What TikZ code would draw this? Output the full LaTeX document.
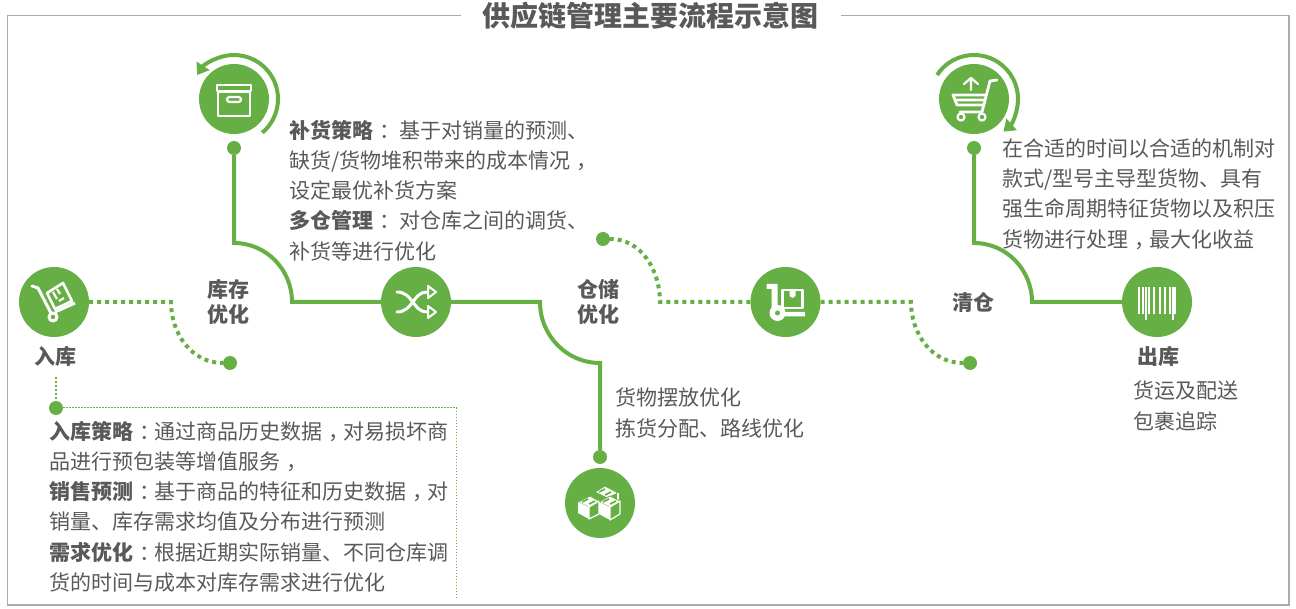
\documentclass[tikz,border=0pt]{standalone}
\usepackage{fontspec}
\setmainfont{Noto Sans CJK SC}
\usepackage{xcolor}
\definecolor{leaf}{RGB}{102, 175, 69}
\definecolor{ink}{RGB}{89, 89, 89}
\definecolor{framegray}{RGB}{170, 170, 170}
\usetikzlibrary{arrows.meta, positioning}
\newcommand{\midmark}[1]{\kern6pt#1\kern-6pt\relax}
\tikzset{
  hub/.style={circle, fill=leaf, minimum size=70pt, inner sep=0pt},
  pin/.style={circle, fill=leaf, minimum size=14pt, inner sep=0pt},
  solidlink/.style={draw=leaf, line width=4pt},
  dotlink/.style={draw=leaf, line width=4pt, dash pattern=on 4pt off 4pt},
  thinlink/.style={draw=leaf, line width=1pt, dash pattern=on 1.5pt off 1.5pt},
  ring/.style={draw=leaf, line width=4pt, -{Triangle[width=15pt,length=11pt]}},
  icon/.style={draw=white, line width=2.2pt, line join=round},
  stage/.style={text=ink, inner sep=0pt, align=center,
    font=\fontsize{21pt}{25pt}\selectfont\bfseries},
  note/.style={text=ink, inner sep=0pt, align=left, anchor=north west,
    font=\fontsize{21pt}{30.2pt}\selectfont}
}

\begin{document}
\begin{tikzpicture}[x=1pt, y=-1pt, on grid]
  \useasboundingbox (0,0) rectangle (1296,609);

  \draw[framegray, line width=1.5pt] (7.5,15.5) rectangle (1289,605);
  \node[fill=white, inner xsep=22pt, inner ysep=2pt, text=ink,
    font=\fontsize{28pt}{32pt}\selectfont\bfseries] (title) at (650.5,16)
    {供应链管理主要流程示意图};

  \node[hub] (inbound) at (54,302) {};
  \node[hub, right=362pt of inbound] (shuffle) {};
  \node[hub, right=369.5pt of shuffle] (handtruck) {};
  \node[hub, right=371.5pt of handtruck] (barcode) {};
  \node[hub, above right=203pt and 180pt of inbound] (archive) {};
  \node[hub, below right=201pt and 184pt of shuffle] (crates) {};
  \node[hub, above left=203pt and 183pt of barcode] (cart) {};

  \node[pin, below=49pt of archive] (archivepin) {};
  \node[pin, above=46pt of crates] (cratespin) {};
  \node[pin, below=49pt of cart] (cartpin) {};
  \node[pin, below right=61pt and 176pt of inbound] (stockpin) {};
  \node[pin, above left=63pt and 182.5pt of handtruck] (storepin) {};
  \node[pin, below right=61pt and 184.5pt of handtruck] (clearpin) {};
  \node[pin] (notepin) at (56,408) {};

  \coordinate[below=144pt of archive] (archiveknee);
  \coordinate[left=124pt of shuffle] (shuffleleft);
  \coordinate[right=124pt of shuffle] (shuffleright);
  \coordinate[above=140pt of crates] (crateknee);
  \coordinate[below=144pt of cart] (cartknee);
  \coordinate[left=125pt of barcode] (barcodeleft);
  \coordinate[right=117pt of inbound] (inboundright);
  \coordinate[left=125.5pt of handtruck] (truckleft);
  \coordinate[right=125.5pt of handtruck] (truckright);
  \coordinate (labelfoot) at (56,377);
  \coordinate (noteright) at (456.5,408);
  \coordinate (noteend) at (456.5,597);

  % solid route
  \draw[solidlink] (archivepin) -- (archiveknee)
    to[out=0, in=90] (shuffleleft) -- (shuffle);
  \draw[solidlink] (shuffle) -- (shuffleright)
    to[out=-90, in=180] (crateknee) -- (cratespin);
  \draw[solidlink] (cartpin) -- (cartknee)
    to[out=0, in=90] (barcodeleft) -- (barcode);

  % dotted route
  \draw[dotlink] (inbound) -- (inboundright)
    to[out=-90, in=180] (stockpin);
  \draw[dotlink] (handtruck) -- (truckleft)
    to[out=90, in=0] (storepin);
  \draw[dotlink] (handtruck) -- (truckright)
    to[out=-90, in=180] (clearpin);
  \draw[draw=leaf, line width=2pt, dash pattern=on 2pt off 2pt] (labelfoot) -- (notepin);
  \draw[thinlink] (notepin) -- (noteright) -- (noteend);

  \draw[ring] (archive) ++(-50:44pt) arc[start angle=-50, end angle=147, radius=44pt];
  \draw[ring] (cart) ++(147:44pt) arc[start angle=147, end angle=-48, radius=44pt];

  % icons
  \begin{scope}[shift={(archive.center)}, icon]
    \draw (-17,-14) rectangle (17,-8);
    \draw (-16,-7) rectangle (16,17);
    \draw[rounded corners=2.5pt] (-7,-2) rectangle (7,3);
  \end{scope}
  \begin{scope}[shift={(inbound.center)}, icon]
    \draw[line width=3pt, line cap=round] (-22,-16) -- (-16,-14) -- (-2,13);
    \draw[line width=3pt] (1,10) -- (21,1);
    \draw[line width=2.6pt] (-7,-9) -- (9,-19) -- (18,-1) -- (1,7) -- cycle;
    \draw (-1,-10) -- (3,-3) (3,-13) -- (6,-8) (5,-1) -- (10,-4);
    \draw[fill=leaf, line width=3pt] (-1,15) circle (4);
  \end{scope}
  \begin{scope}[shift={(shuffle.center)}, icon, line cap=round]
    \draw[line width=3pt] (-19,-10) .. controls (-3,-10) and (-3,10) .. (11,10);
    \draw[line width=3pt] (-19,10) .. controls (-3,10) and (-3,-10) .. (11,-10);
    \draw[line width=2pt, fill=leaf] (12,-16) -- (20,-10) -- (12,-4) -- cycle;
    \draw[line width=2pt, fill=leaf] (12,4) -- (20,10) -- (12,16) -- cycle;
  \end{scope}
  \begin{scope}[shift={(crates.center)}, icon, line width=1.2pt]
    \draw[fill=white, draw=leaf, line width=.8pt] (-5,-11) -- (5,-17) -- (18,-10) -- (7,-5) -- cycle;
    \draw[white, line width=1.2pt] (18,-10) -- (18,-3);
    \draw[leaf, line width=1.6pt] (-1,-11) -- (5,-14) (5,-8) -- (11,-11);
    \draw[fill=white, draw=leaf, line width=.8pt] (-22,-1) -- (-10,-7) -- (-1,-2) -- (-11,4) -- cycle;
    \draw[leaf, line width=1.6pt] (-18,-1) -- (-12,-4) (-11,1) -- (-5,-2);
    \draw[fill=white, draw=none] (-22,-1) -- (-11,4) -- (-11,16) -- (-22,10) -- cycle;
    \draw[fill=leaf] (-11,4) -- (-1,-2) -- (-1,11) -- (-11,16) -- cycle;
    \draw[fill=white, draw=leaf, line width=.8pt] (-1,-1) -- (10,-7) -- (20,-2) -- (10,4) -- cycle;
    \draw[leaf, line width=1.6pt] (3,-1) -- (9,-4) (10,1) -- (16,-2);
    \draw[fill=white, draw=none] (-1,-1) -- (10,4) -- (10,17) -- (-1,11) -- cycle;
    \draw[fill=leaf] (10,4) -- (20,-2) -- (20,11) -- (10,17) -- cycle;
  \end{scope}
  \begin{scope}[shift={(handtruck.center)}, icon]
    \draw[fill=white, draw=none] (-19,-18) -- (-8,-18) -- (-8,10) -- (19.5,10)
      -- (19.5,14.5) -- (-14,14.5) -- (-14,-13) -- (-19,-13) -- cycle;
    \draw (-3,-12) rectangle (17,6);
    \draw[fill=white, draw=none] (4,-12) -- (10,-12) -- (10,-6) -- (7,-4) -- (4,-6) -- cycle;
    \draw[fill=white, draw=none] (-8,11) circle (8);
    \draw[fill=leaf, draw=none] (-8,11) circle (2.5);
  \end{scope}
  \begin{scope}[shift={(cart.center)}, icon]
    \draw[line cap=round] (-3,-9) -- (-3,-21) (-10,-15) -- (-3,-21) -- (4,-15);
    \draw[line cap=round, line width=2.8pt] (23,-19) -- (16,-18) -- (8,13) -- (-14,13);
    \draw[line width=2.8pt] (13,-4) -- (-21,-4) -- (-17,6) -- (10,6) (-19,1) -- (11,1);
    \draw (-13,18) circle (3.5) (8,18) circle (3.5);
  \end{scope}
  \begin{scope}[shift={(barcode.center)}, icon]
    \draw[line width=2.2pt] (-18,-15) -- (-18,12) (-8,-15) -- (-8,12)
      (-3,-15) -- (-3,12) (3,-15) -- (3,12) (8,-15) -- (8,12) (13,-15) -- (13,12);
    \draw[line width=1.2pt] (-14,-15) -- (-14,12) (18,-15) -- (18,12);
    \draw[line width=1.6pt] (-11,-15) -- (-11,18) (16,-15) -- (16,18);
  \end{scope}

  % labels
  \node[stage] (inboundlabel) at (55.5,356) {入库};
  \node[stage] (stocklabel) at (228,301.5) {库存\\优化};
  \node[stage] (storelabel) at (598.5,301.5) {仓储\\优化};
  \node[stage] (clearlabel) at (973,302) {清仓};
  \node[stage] (outlabel) at (1158.5,356) {出库};

  \node[note] (stocknote) at (289.5,120)
    {\textbf{补货策略}\midmark{：} 基于对销量的预测、\\
     缺货/货物堆积带来的成本情况\midmark{，}\\
     设定最优补货方案\\
     \textbf{多仓管理}\midmark{：} 对仓库之间的调货、\\
     补货等进行优化};
  \node[note] (storenote) at (615.5,388)
    {货物摆放优化\\拣货分配、路线优化};
  \node[note] (clearnote) at (1002.5,138.5)
    {在合适的时间以合适的机制对\\
     款式/型号主导型货物、具有\\
     强生命周期特征货物以及积压\\
     货物进行处理\midmark{，}最大化收益};
  \node[note] (outnote) at (1133.5,381)
    {货运及配送\\包裹追踪};
  \node[note] (inboundnote) at (49.5,421)
    {\textbf{入库策略}\midmark{：}通过商品历史数据\midmark{，}对易损坏商\\
     品进行预包装等增值服务\midmark{，}\\
     \textbf{销售预测}\midmark{：}基于商品的特征和历史数据\midmark{，}对\\
     销量、库存需求均值及分布进行预测\\
     \textbf{需求优化}\midmark{：}根据近期实际销量、不同仓库调\\
     货的时间与成本对库存需求进行优化};
\end{tikzpicture}
\end{document}
